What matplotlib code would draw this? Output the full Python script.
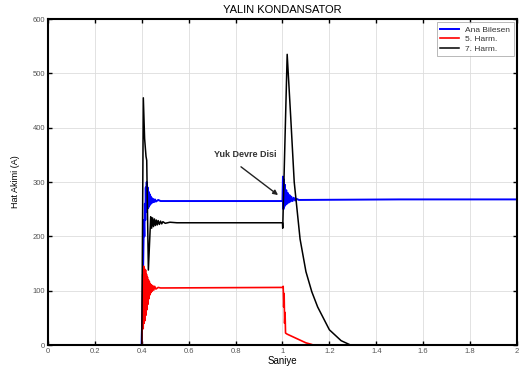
import numpy as np
import matplotlib.pyplot as plt

plt.rcParams['font.family'] = ['Liberation Sans', 'DejaVu Sans']

# ── Data ──────────────────────────────────────────────────────────────────────
t_ana = [0.0, 0.399, 0.400, 0.403, 0.405, 0.407, 0.409, 0.411, 0.413, 0.415,
         0.417, 0.419, 0.421, 0.423, 0.425, 0.427, 0.429, 0.431, 0.433, 0.435,
         0.437, 0.439, 0.442, 0.445, 0.448, 0.452, 0.456, 0.460, 0.470, 0.480,
         0.600, 0.800, 1.000, 1.002, 1.004, 1.006, 1.008, 1.010, 1.013, 1.016,
         1.019, 1.022, 1.026, 1.030, 1.034, 1.038, 1.043, 1.048, 1.054, 1.060,
         1.070, 1.500, 2.000]
i_ana = [0, 0, 20, 60, 120, 180, 230, 200, 260, 230,
         290, 245, 300, 250, 290, 252, 282, 255, 278, 258,
         274, 260, 271, 262, 269, 263, 268, 264, 267, 265,
         265, 265, 265, 310, 250, 305, 255, 295, 258, 285,
         260, 280, 262, 276, 264, 273, 265, 271, 266, 269,
         267, 268, 268]

t_h5 = [0.0, 0.400, 0.402, 0.404, 0.406, 0.408, 0.410, 0.412, 0.414, 0.416,
        0.418, 0.420, 0.422, 0.424, 0.426, 0.428, 0.430, 0.432, 0.434, 0.436,
        0.438, 0.441, 0.444, 0.447, 0.451, 0.455, 0.460, 0.470, 0.480, 1.000,
        1.003, 1.005, 1.007, 1.009, 1.011, 1.013, 1.020, 1.040, 1.060, 1.080,
        1.100, 1.125, 1.130]
i_h5 = [0, 0, 40, 130, 30, 145, 40, 140, 45, 138,
        55, 130, 65, 125, 75, 120, 85, 117, 92, 113,
        96, 111, 99, 109, 101, 108, 103, 106, 105, 106,
        108, 70, 95, 40, 60, 22, 20, 16, 12, 8,
        4, 1, 0]

t_h7 = [0.0, 0.400, 0.4065, 0.412, 0.418, 0.421, 0.428, 0.438, 0.442, 0.446,
        0.450, 0.454, 0.458, 0.462, 0.466, 0.470, 0.475, 0.480, 0.485, 0.490,
        0.500, 0.520, 0.550, 1.000, 1.001, 1.020, 1.035, 1.050, 1.075, 1.100,
        1.125, 1.150, 1.200, 1.250, 1.290, 2.000]
i_h7 = [0, 0, 455, 380, 347, 340, 138, 236, 215, 234,
        218, 232, 220, 230, 221, 229, 222, 228, 223, 227,
        224, 226, 225, 225, 215, 535, 420, 300, 195, 135,
        98, 70, 28, 8, 0, 0]

x_ticks = [0, 0.2, 0.4, 0.6, 0.8, 1, 1.2, 1.4, 1.6, 1.8, 2]
x_tick_labels = ['0', '0.2', '0.4', '0.6', '0.8', '1', '1.2', '1.4', '1.6', '1.8', '2']
y_ticks = [0, 100, 200, 300, 400, 500, 600]

# ── Plot ──────────────────────────────────────────────────────────────────────
fig = plt.figure(figsize=(5.24, 3.76), dpi=100)
ax = fig.add_axes([0.0916, 0.0824, 0.895, 0.867])

ax.plot(t_ana, i_ana, color='#0000ff', linewidth=1.4, label='Ana Bilesen')
ax.plot(t_h5, i_h5, color='#ff0000', linewidth=1.2, label='5. Harm.')
ax.plot(t_h7, i_h7, color='black', linewidth=1.1, label='7. Harm.')

ax.set_xlim(0, 2)
ax.set_ylim(0, 600)
ax.set_xticks(x_ticks)
ax.set_xticklabels(x_tick_labels)
ax.set_yticks(y_ticks)
ax.tick_params(direction='in', top=True, right=True, length=3, width=1,
               labelsize=5.5, labelcolor='#555555', pad=2)
ax.grid(True, color='#dddddd', linewidth=0.6)
for s in ax.spines.values():
    s.set_linewidth(1.5)
    s.set_zorder(5)

ax.set_title('YALIN KONDANSATOR', fontsize=8, pad=4)
ax.set_xlabel('Saniye', fontsize=7, labelpad=1)
ax.set_ylabel('Hat Akimi (A)', fontsize=6.5, labelpad=9)

# annotation: text and arrow
ax.text(0.84, 350, 'Yuk Devre Disi', fontsize=6.5, fontweight='bold',
        color='#333333', ha='center', va='center')
ax.annotate('', xy=(0.981, 276), xytext=(0.823, 328),
            arrowprops=dict(arrowstyle='-|>', color='#222222', lw=1.0,
                            shrinkA=0, shrinkB=0, mutation_scale=7))

leg = ax.legend(loc='upper right', fontsize=6, frameon=True, fancybox=False,
                borderpad=0.4, handlelength=2.2, labelspacing=0.2,
                borderaxespad=0.4)
leg.get_frame().set_edgecolor('#999999')
leg.get_frame().set_linewidth(0.6)
for txt in leg.get_texts():
    txt.set_color('#333333')

fig.savefig('out.png', dpi=100)
